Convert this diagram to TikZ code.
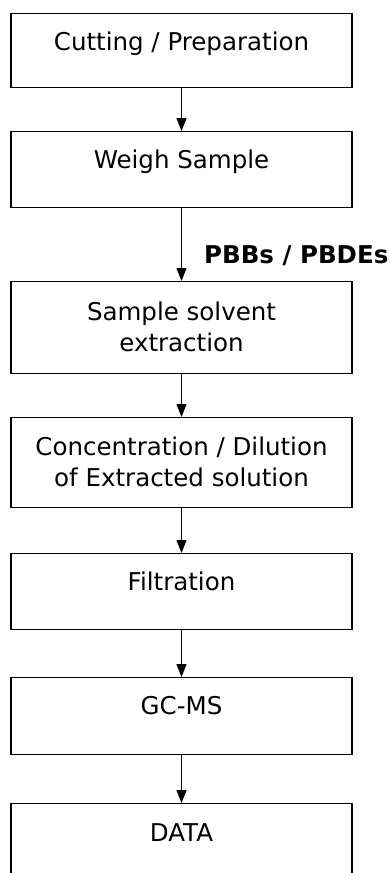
\documentclass[tikz,border=0pt]{standalone}
\usepackage{fontspec}
\setmainfont{DejaVu Sans}
\usetikzlibrary{arrows.meta}
\begin{document}
\begin{tikzpicture}[x=1pt,y=1pt,
  stepbox/.style={draw=black, line width=1.3pt, minimum width=341pt, minimum height=#1, inner sep=0pt, anchor=north},
  steptext/.style={font=\fontsize{24.5}{31}\selectfont, anchor=base, align=center, inner sep=0pt},
  flow/.style={line width=1.3pt, -{Triangle[length=13pt,width=10pt]}}]
\useasboundingbox (0,0) rectangle (390,-873);
\clip (0,0) rectangle (390,-873);
\node[stepbox=74pt] (b1) at (181.5,-13) {};
\node[stepbox=76pt] (b2) at (181.5,-131) {};
\node[stepbox=92pt] (b3) at (181.5,-281) {};
\node[stepbox=90pt] (b4) at (181.5,-417) {};
\node[stepbox=76pt] (b5) at (181.5,-553) {};
\node[stepbox=77pt] (b6) at (181.5,-677) {};
\node[stepbox=90pt] (b7) at (181.5,-803) {};
\node[steptext] (t1) at (181.5,-50) {Cutting / Preparation};
\node[steptext] (t2) at (181.5,-168) {Weigh Sample};
\node[steptext] (t3) at (181.5,-351) {Sample solvent\\extraction};
\node[steptext] (t4) at (181.5,-486) {Concentration / Dilution\\of Extracted solution};
\node[steptext] (t5) at (181.5,-590) {Filtration};
\node[steptext] (t6) at (181.5,-714) {GC-MS};
\node[steptext] (t7) at (181.5,-841) {DATA};
\node[font=\bfseries\fontsize{24.5}{29}\selectfont, anchor=base west, inner sep=0pt] (lab) at (204,-263) {PBBs / PBDEs};
\draw[flow] (b1.south) -- (b2.north);
\draw[flow] (b2.south) -- (b3.north);
\draw[flow] (b3.south) -- (b4.north);
\draw[flow] (b4.south) -- (b5.north);
\draw[flow] (b5.south) -- (b6.north);
\draw[flow] (b6.south) -- (b7.north);
\end{tikzpicture}
\end{document}
